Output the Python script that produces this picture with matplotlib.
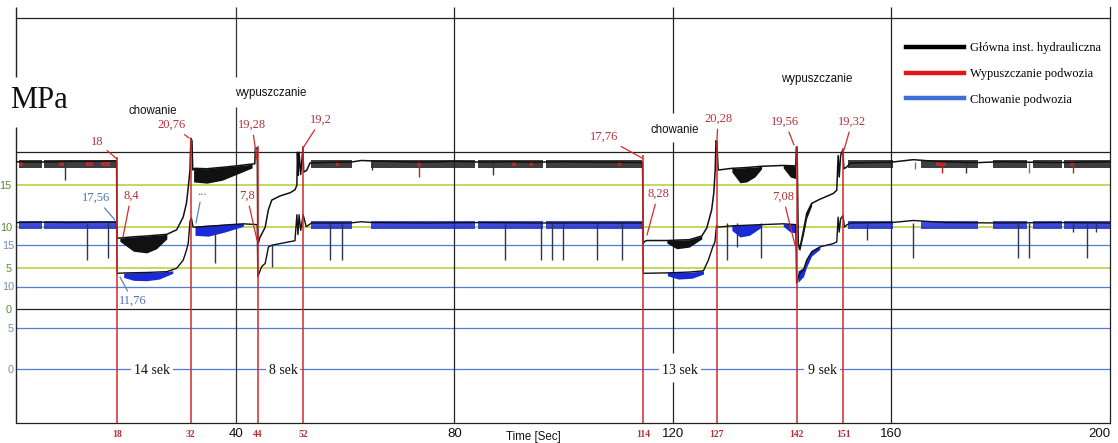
import numpy as np
import matplotlib
matplotlib.use("Agg")
import matplotlib.pyplot as plt
import matplotlib.transforms as mtransforms
from matplotlib.lines import Line2D
from matplotlib.ticker import FixedLocator, FixedFormatter

# ---------------- data (upper trace: green MPa scale) ----------------
UP_T = [0, 4, 10, 15, 18.2, 18.3, 18.8, 21.3, 23.7, 27.4, 29.2, 30.4, 31.0, 31.33, 31.64,
        31.8, 32.0, 32.15, 32.5, 34.7, 38, 40.8, 42.0, 43.5, 43.6, 43.95, 44.05, 44.45,
        45.4, 45.97, 46.6, 48.1, 50.0, 50.85, 51.2, 51.3, 51.45, 51.6, 51.9, 52.3, 52.45,
        53.0, 53.6, 58, 61, 63, 65, 70, 75, 80, 85, 90, 95, 100, 105, 110, 114.45, 114.6,
        114.9, 115.2, 118.9, 120.7, 123, 125.3, 126.2, 127.1, 127.5, 127.75, 127.9, 128.05,
        128.3, 129, 130.8, 132.3, 133.5, 136.25, 140.2, 142.5, 142.6, 142.75, 142.95, 143.2,
        143.9, 144.5, 145.4, 146.9, 149.35, 150.0, 150.25, 150.45, 150.7, 151.1, 151.3,
        151.8, 152.5, 156, 160, 164, 168, 172, 176, 180, 185, 190, 195, 200]
UP_V = [17.85, 17.8, 17.9, 17.9, 17.95, 8.6, 8.6, 8.75, 8.85, 9.05, 9.6, 11.15, 12.85, 14.8,
        16.85, 20.7, 20.4, 16.85, 17.05, 17.0, 17.2, 17.4, 17.5, 17.6, 19.5, 19.5, 7.8, 8.7,
        9.9, 12.0, 13.2, 13.7, 14.1, 14.45, 15.0, 19.0, 16.2, 19.0, 16.3, 19.5, 16.6,
        16.8, 17.7, 17.8, 17.8, 18.0, 17.95, 17.85, 17.8, 17.9, 17.8, 17.85, 17.8, 17.85, 17.8,
        17.8, 17.75, 8.0, 8.2, 8.3, 8.3, 8.35, 8.4, 8.85, 9.8, 12.0, 14.1, 16.8, 20.4, 20.2,
        16.85, 16.9, 17.05, 17.1, 17.15, 17.3, 17.4, 17.35, 19.6, 19.5, 8.0, 7.2,
        9.5, 11.6, 12.8, 13.3, 14.0, 14.4, 18.6, 16.0, 18.6, 19.3, 17.0,
        17.2, 17.7, 17.75, 17.8, 18.1, 17.9, 17.8, 17.75, 17.85, 17.8, 17.75, 17.8, 17.85]

# noisy bands of the upper trace: (times, top, bottom)
UP_BANDS = [
    ([18.8, 21.3, 23.7, 25.5, 27.4], [8.6, 8.75, 8.85, 8.95, 9.05], [8.2, 7.0, 6.8, 7.3, 8.5]),
    ([32.3, 34.7, 37.5, 40.8, 43.0], [17.05, 17.0, 17.2, 17.4, 17.55], [15.4, 15.25, 15.6, 16.5, 17.1]),
    ([118.9, 120.7, 123.0, 125.3], [8.3, 8.35, 8.4, 8.85], [8.0, 7.3, 7.5, 8.5]),
    ([130.8, 132.3, 133.5, 135.0, 136.25], [17.05, 17.1, 17.15, 17.2, 17.3], [16.6, 15.3, 15.4, 16.0, 17.0]),
    ([140.2, 141.5, 142.5], [17.4, 17.4, 17.35], [17.1, 16.0, 15.8]),
    ([143.2, 143.9, 144.5, 145.4], [7.6, 9.7, 11.8, 13.0], [7.0, 9.0, 11.0, 12.5]),
]
STEADY_SEGS = [(0.3, 4.6), (5.0, 18.1), (53.8, 61.2), (64.8, 83.8), (84.3, 96.2), (96.8, 114.4),
               (152, 160.3), (165.5, 175.8), (178.5, 184.8), (186.0, 191.2), (191.6, 200)]
UP_STEADY_TOP, UP_STEADY_BOT = 18.05, 17.1
RED_PATCHES = [(0.3, 1.0), (7.6, 8.5), (12.6, 13.9), (15.4, 17.0), (58.3, 58.9), (73.2, 73.9),
               (90.6, 91.3), (93.9, 94.5), (110, 110.5), (168.2, 170.0), (192.6, 193.4)]

UP_SPK_T = [8.8, 65.0, 73.6, 87.0, 164.3, 169.2, 173.6, 185.2, 193.3]
UP_SPK_LO = [15.6, 16.8, 16.0, 16.2, 17.0, 16.5, 16.5, 16.5, 16.5]
UP_SPK_HI = [17.8] * 9
UP_SPK_COL = ["#333333", "#333333", "#c02020", "#333333", "#777777", "#c02020",
              "#333333", "#777777", "#c02020"]

# ---------------- data (lower trace: blue MPa scale) ----------------
LO_T = [0, 4, 10, 15, 18.2, 18.3, 20, 23.7, 27.4, 29.2, 30.4, 31.0, 31.33, 31.64, 31.9, 32.2,
        32.55, 35, 38, 41.4, 43.95, 44.05, 44.75, 45.4, 46.0, 46.6, 48.1, 50.85, 51.2, 51.4,
        51.6, 51.9, 52.35, 52.9, 53.9, 58, 61, 63, 65, 75, 85, 95, 105, 114.45, 114.6, 118.9,
        123, 125.6, 126.5, 127.3, 127.7, 128.0, 128.3, 130.8, 136.25, 140.2, 142.5, 142.65,
        143.2, 143.9, 144.5, 145.4, 146.9, 149.35, 150.0, 150.25, 150.45, 150.7, 151.15,
        151.4, 151.8, 152.5, 160, 164, 170, 180, 190, 200]
LO_B = [17.75, 17.8, 17.75, 17.8, 17.8, 11.6, 11.65, 11.7, 11.8, 12.2, 13.2, 14.4, 15.3, 17.9,
        18.3, 17.2, 17.2, 17.3, 17.45, 17.6, 17.5, 11.2, 12.4, 12.8, 14.8, 15.0, 15.2, 15.55,
        18.7, 16.3, 18.7, 16.8, 18.7, 17.25, 17.7, 17.7, 17.7, 17.85, 17.75, 17.7, 17.75, 17.7,
        17.7, 17.7, 11.6, 11.65, 11.75, 11.9, 13.2, 14.8, 15.4, 17.4, 17.2, 17.35, 17.5, 17.6,
        17.5, 10.4, 11.6, 12.0, 13.2, 14.2, 14.8, 15.2, 15.4, 18.4, 16.6, 18.2, 18.6, 17.2,
        17.45, 17.7, 17.75, 18.0, 17.75, 17.7, 17.75, 17.7]

LO_BANDS = [
    ([19.5, 21.3, 23.7, 26.0, 28.5], [11.65, 11.68, 11.7, 11.75, 11.9], [11.1, 10.75, 10.7, 10.9, 11.6]),
    ([32.55, 35.0, 38.0, 41.4], [17.35, 17.45, 17.55, 17.65], [16.2, 16.1, 16.6, 17.3]),
    ([119.0, 121.0, 123.5, 125.6], [11.7, 11.7, 11.75, 11.9], [11.3, 10.9, 11.0, 11.5]),
    ([130.8, 132.3, 134.0, 136.25], [17.45, 17.5, 17.5, 17.5], [16.8, 16.0, 16.2, 17.2]),
    ([140.2, 141.5, 142.5], [17.6, 17.6, 17.5], [17.3, 16.6, 16.5]),
    ([142.9, 143.9, 144.5, 145.4, 146.9], [11.9, 12.3, 13.4, 14.4, 14.9], [10.5, 11.2, 12.4, 13.7, 14.5]),
]
LO_STEADY_TOP, LO_STEADY_BOT = 17.95, 17.0

LO_SPK_T = [12.8, 16.7, 36.2, 46.6, 57.3, 59.4, 89.3, 95.9, 97.9, 99.9, 106.1, 110.7, 129.9,
            131.7, 136.1, 155.5, 163.9, 183.2, 185.2, 193.3, 195.8, 197.4]
LO_SPK_LO = [13.2, 13.5, 12.85, 12.4, 13.2, 13.2, 13.2, 13.2, 13.2, 13.2, 13.2, 13.2, 13.2,
             14.8, 13.45, 15.6, 13.45, 13.45, 13.45, 16.6, 13.45, 16.6]
LO_SPK_HI = [17.7, 17.7, 17.3, 15.0] + [17.7] * 18

# event markers (red vertical lines) and their labels
RED_T = [18.34, 31.8, 44.0, 52.4, 114.6, 128.0, 142.65, 151.2]
RED_LBL = ["18", "32", "44", "52", "114", "127", "142", "151"]
RED_TOP = [18.4, 20.7, 19.75, 19.75, 18.65, 20.5, 19.75, 19.5]

X_TICKS = [40, 80, 120, 160, 200]
GREEN_LEVELS = [5, 10, 15]
BLUE_LEVELS = [0, 5, 10, 15]

LEG_LABELS = ["Główna inst. hydrauliczna", "Wypuszczanie podwozia", "Chowanie podwozia"]

# ---------------- style ----------------
RED = "#d42a2a"
RED_TXT = "#b5303a"
BLUE_TXT = "#4d72b0"
GREEN_GRID = "#c3d34c"
BLUE_GRID = "#4f7fd0"
GREEN_TICK = "#4f8f30"
BLUE_TICK = "#7090b8"
BLUE_TRACE = "#1a2ad8"
SERIF = "Liberation Serif"
SANS = "Liberation Sans"

W, H = 1118, 443
fig = plt.figure(figsize=(W / 100, H / 100), dpi=100)
AX_L, AX_R, AX_T, AX_B = 16, 1110, 7, 423
ax = fig.add_axes([AX_L / W, 1 - AX_B / H, (AX_R - AX_L) / W, (AX_B - AX_T) / H])
X0, X1 = -0.2, 200.0
PX_PER_MPA = 8.25
ZERO_PX = 309
Y0 = (ZERO_PX - AX_B) / PX_PER_MPA
Y1 = (ZERO_PX - AX_T) / PX_PER_MPA
BLUE_OFF = 60 / PX_PER_MPA


def tx(px):
    return X0 + (px - AX_L) / (AX_R - AX_L) * (X1 - X0)


def vy(py):
    return (ZERO_PX - py) / PX_PER_MPA


blue_tr = mtransforms.Affine2D().translate(0, -BLUE_OFF) + ax.transData

# grid / frame lines
ax.hlines(GREEN_LEVELS, X0, X1, colors=GREEN_GRID, lw=1.3, zorder=1)
ax.hlines(BLUE_LEVELS, X0, X1, colors=BLUE_GRID, lw=0.9, zorder=1, transform=blue_tr)
ax.hlines([0, vy(152), vy(18)], X0, X1, colors="#222222", lw=0.9, zorder=1.2)
ax.vlines([80, 160], Y0, Y1, colors="#222222", lw=0.9, zorder=1.2)
ax.vlines([40, 40], [Y0, vy(77)], [vy(107), Y1], colors="#333333", lw=0.9, zorder=1.2)
ax.vlines([120, 120, 120], [Y0, vy(353), vy(113)], [vy(382), vy(142), Y1], colors="#222222",
          lw=0.9, zorder=1.2)
ax.vlines([X0, X0], [Y0, vy(77)], [vy(127), Y1], colors="#222222", lw=1.0, zorder=1.2, clip_on=False)

# upper trace
for a, b in STEADY_SEGS:
    ax.fill_between([a, b], [UP_STEADY_BOT] * 2, [UP_STEADY_TOP] * 2, color="#1c1c1c",
                    alpha=0.85, lw=0, zorder=3)
for a, b in RED_PATCHES:
    ax.fill_between([a, b], [UP_STEADY_BOT + 0.2] * 2, [UP_STEADY_TOP - 0.1] * 2, color=RED,
                    alpha=0.75, lw=0, zorder=3.2)
for t, top, bot in UP_BANDS:
    ax.fill_between(t, bot, top, color="#111111", lw=0, zorder=3)
ax.vlines(UP_SPK_T, UP_SPK_LO, UP_SPK_HI, colors=UP_SPK_COL, lw=1.0, zorder=3.3)
ax.plot(UP_T, UP_V, color="#111111", lw=1.1, zorder=4)

# lower trace
for a, b in STEADY_SEGS:
    ax.fill_between([a, b], [LO_STEADY_BOT] * 2, [LO_STEADY_TOP] * 2, color=BLUE_TRACE,
                    alpha=0.85, lw=0, zorder=3, transform=blue_tr)
for t, top, bot in LO_BANDS:
    ax.fill_between(t, bot, top, color=BLUE_TRACE, lw=0, zorder=3, transform=blue_tr)
ax.vlines(LO_SPK_T, LO_SPK_LO, LO_SPK_HI, colors="#2c3650", lw=1.0, zorder=3.3, transform=blue_tr)
ax.plot(LO_T, LO_B, color="#111111", lw=1.0, zorder=4, transform=blue_tr)

# red event lines
ax.vlines(RED_T, Y0, RED_TOP, colors=RED, lw=1.1, zorder=5)

ax.set_xlim(X0, X1)
ax.set_ylim(Y0, Y1)

# spines
for s in ["left", "top"]:
    ax.spines[s].set_visible(False)
for s in ["right", "bottom"]:
    ax.spines[s].set_color("#222222")
    ax.spines[s].set_linewidth(0.9)

# x ticks
ax.xaxis.set_major_locator(FixedLocator(X_TICKS))
ax.xaxis.set_major_formatter(FixedFormatter([str(v) for v in X_TICKS]))
ax.xaxis.set_minor_locator(FixedLocator(RED_T))
ax.xaxis.set_minor_formatter(FixedFormatter(RED_LBL))
ax.tick_params(axis="x", which="major", length=0, pad=3.6, labelsize=9.5, labelcolor="#111111")
ax.tick_params(axis="x", which="minor", length=0, pad=5.2, labelsize=7, labelcolor=RED_TXT)
for lbl in ax.xaxis.get_majorticklabels():
    lbl.set_fontfamily(SANS)
ax.xaxis.get_majorticklabels()[-1].set_horizontalalignment("right")
for lbl in ax.xaxis.get_minorticklabels():
    lbl.set_fontfamily(SERIF)
    lbl.set_fontweight("bold")

# y ticks: green scale (primary) and blue scale (secondary)
ax.set_yticks([0, 5, 10, 15])
ax.tick_params(axis="y", length=0, pad=3.0, labelsize=7.8, labelcolor=GREEN_TICK)
for lbl in ax.yaxis.get_majorticklabels():
    lbl.set_fontfamily(SANS)
sec = ax.secondary_yaxis("left", functions=(lambda v: v + BLUE_OFF, lambda b: b - BLUE_OFF))
sec.set_yticks(BLUE_LEVELS)
sec.spines["left"].set_visible(False)
sec.tick_params(axis="y", length=0, pad=1.5, labelsize=7.8, labelcolor=BLUE_TICK)
for lbl in sec.yaxis.get_majorticklabels():
    lbl.set_fontfamily(SANS)

# texts
ax.text(tx(10), vy(108), "MPa", fontsize=22, family=SERIF, ha="left", va="baseline",
        color="#111111", clip_on=False)
for txt, cx, cy in [("chowanie", 153, 111), ("wypuszczanie", 271, 93),
                    ("chowanie", 675, 130), ("wypuszczanie", 817, 79)]:
    ax.text(tx(cx), vy(cy), txt, fontsize=8.3, family=SANS, ha="center", va="center",
            color="#111111", zorder=6)

ANN = [
    ("18", RED_TXT, (97, 142), (117, 159)),
    ("20,76", RED_TXT, (172, 125), (189, 138)),
    ("19,28", RED_TXT, (252, 125), (257, 160)),
    ("19,2", RED_TXT, (321, 120), (303, 148)),
    ("8,4", RED_TXT, (131, 196), (123, 237)),
    ("17,56", BLUE_TXT, (96, 198), (115, 220)),
    ("7,8", RED_TXT, (247, 196), (257, 240)),
    ("11,76", BLUE_TXT, (133, 301), (120, 277)),
    ("...", BLUE_TXT, (202, 192), (196, 223)),
    ("17,76", RED_TXT, (604, 137), (642, 158)),
    ("8,28", RED_TXT, (658, 194), (647, 235)),
    ("20,28", RED_TXT, (718, 119), (717, 140)),
    ("19,56", RED_TXT, (785, 122), (794, 145)),
    ("19,32", RED_TXT, (852, 122), (844, 150)),
    ("7,08", RED_TXT, (783, 197), (795, 245)),
]
for txt, col, (cx, cy), (ex, ey) in ANN:
    lc = RED if col == RED_TXT else "#5a80c0"
    ax.annotate(txt, xy=(tx(ex), vy(ey)), xytext=(tx(cx), vy(cy)), ha="center", va="center",
                fontsize=9, family=SERIF, color=col, zorder=7,
                arrowprops=dict(arrowstyle="-", color=lc, lw=0.9, shrinkA=1, shrinkB=0))

for txt, cx in [("14 sek", 152), ("8 sek", 283), ("13 sek", 680), ("9 sek", 822)]:
    ax.text(tx(cx), vy(370), txt, fontsize=10, family=SERIF, ha="center", va="center",
            color="#111111", zorder=6,
            bbox=dict(facecolor="white", edgecolor="none", pad=2.2))

ax.text(tx(533), vy(437), "Time [Sec]", fontsize=8.3, family=SANS, ha="center", va="center",
        color="#111111", clip_on=False)

# legend
handles = [Line2D([], [], color="#000000", lw=3.2),
           Line2D([], [], color="#e01818", lw=3.2),
           Line2D([], [], color="#3a6fd8", lw=3.2)]
leg = ax.legend(handles, LEG_LABELS, loc="upper left",
                bbox_to_anchor=(906 / W, 1 - 42.5 / H), bbox_transform=fig.transFigure,
                frameon=False, prop={"family": SERIF, "size": 8.9}, handlelength=4.7,
                handletextpad=0.45, labelspacing=1.1, borderpad=0, borderaxespad=0)

fig.savefig("out.png", dpi=100)
